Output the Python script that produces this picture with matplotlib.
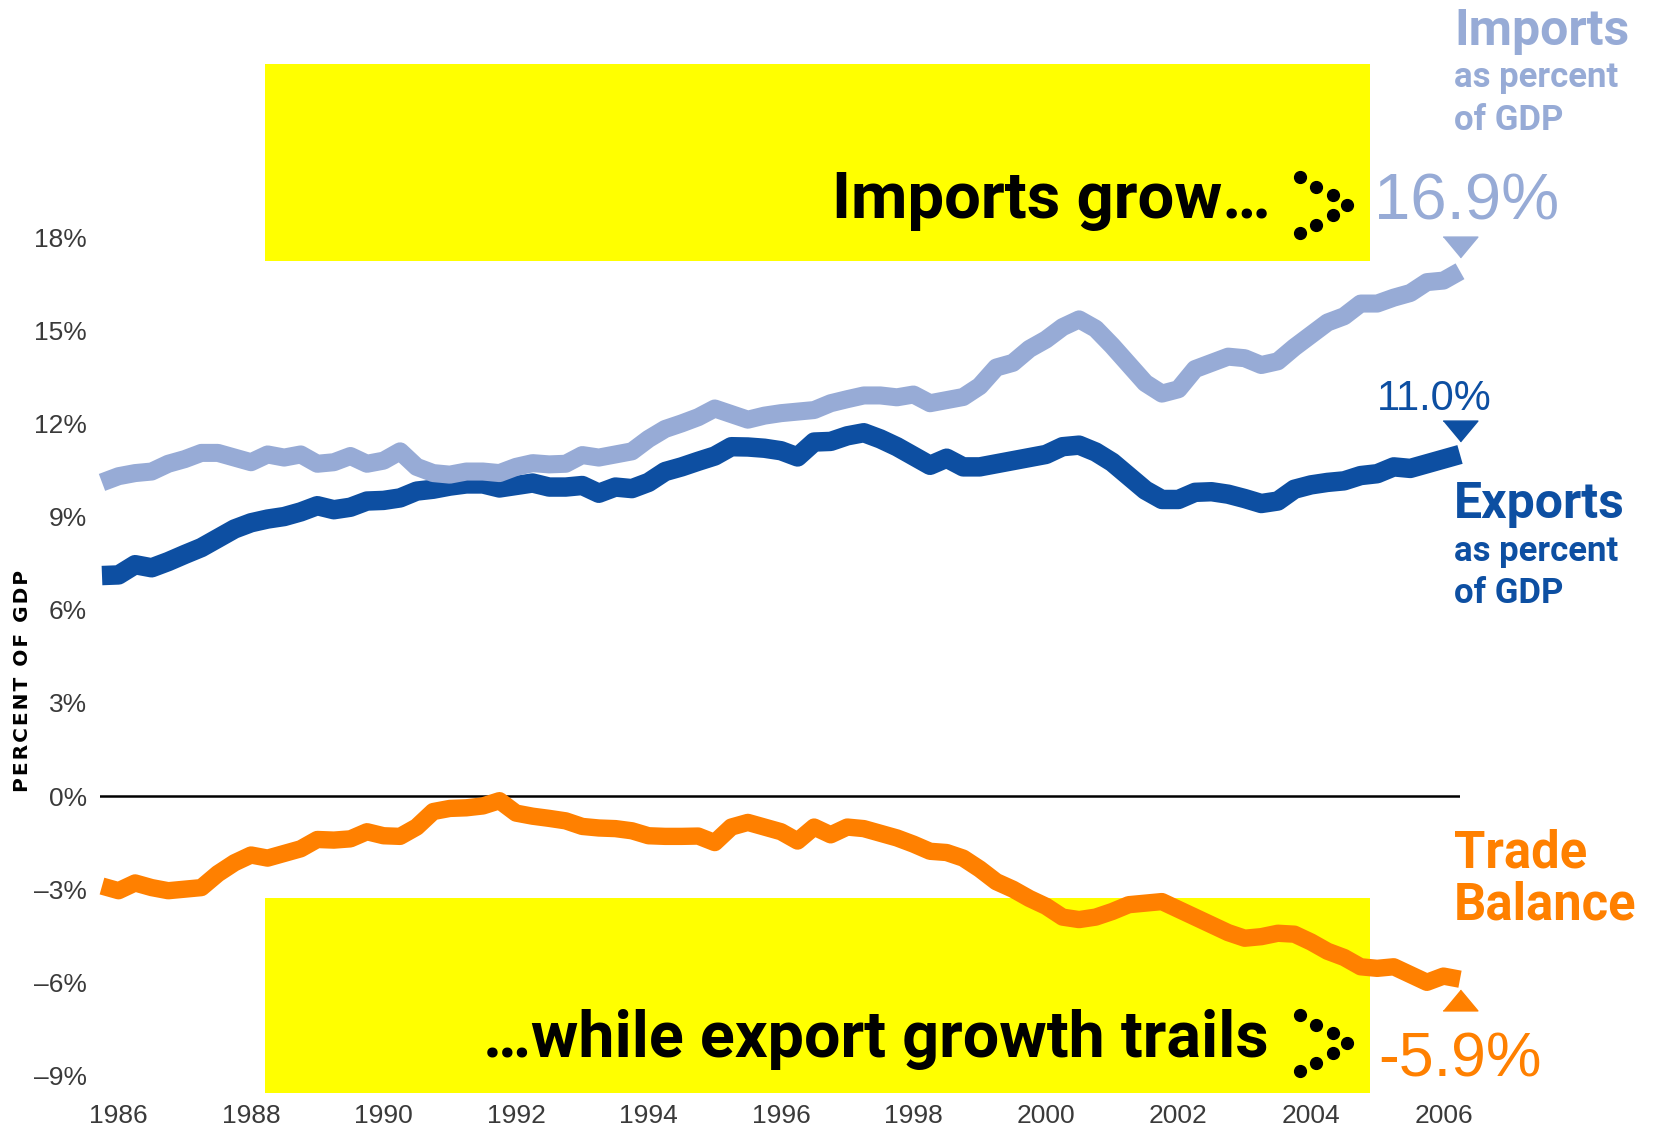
import matplotlib.pyplot as plt
import numpy as np
from matplotlib.patches import Rectangle
from matplotlib.transforms import offset_copy

W, H = 1661, 1136

# quarterly readings, late 1985 .. early 2006, percent of GDP
quarters = np.arange(1985.75, 2006.26, 0.25)

imports_pct = [
    10.1,
    10.3, 10.4, 10.45, 10.7,
    10.85, 11.05, 11.05, 10.9,
    10.75, 11.0, 10.9, 11.0,
    10.7, 10.75, 10.95, 10.7,
    10.8, 11.1, 10.6, 10.4,
    10.35, 10.45, 10.45, 10.4,
    10.6, 10.72, 10.68, 10.7,
    10.98, 10.9, 11.0, 11.1,
    11.5, 11.82, 12.0, 12.2,
    12.48, 12.3, 12.12, 12.25,
    12.33, 12.38, 12.43, 12.65,
    12.78, 12.9, 12.9, 12.84,
    12.93, 12.65, 12.75, 12.85,
    13.2, 13.8, 13.95, 14.4,
    14.7, 15.1, 15.35, 15.05,
    14.5, 13.9, 13.3, 12.96,
    13.1, 13.75, 13.95, 14.15,
    14.1, 13.88, 14.0, 14.45,
    14.85, 15.25, 15.45, 15.86,
    15.86, 16.05, 16.2, 16.55,
    16.6, 16.9,
]

exports_pct = [
    7.1,
    7.12, 7.45, 7.35, 7.55,
    7.78, 8.0, 8.3, 8.6,
    8.8, 8.92, 9.0, 9.15,
    9.35, 9.22, 9.3, 9.5,
    9.52, 9.6, 9.82, 9.88,
    9.98, 10.05, 10.05, 9.92,
    10.0, 10.08, 9.95, 9.95,
    10.0, 9.75, 9.95, 9.9,
    10.1, 10.45, 10.6, 10.78,
    10.95, 11.25, 11.24, 11.2,
    11.12, 10.92, 11.4, 11.42,
    11.6, 11.7, 11.5, 11.25,
    10.95, 10.65, 10.88, 10.6,
    10.6, 10.7, 10.8, 10.9,
    11.0, 11.25, 11.3, 11.08,
    10.75, 10.3, 9.85, 9.55,
    9.55, 9.78, 9.8, 9.72,
    9.58, 9.42, 9.5, 9.88,
    10.02, 10.1, 10.15, 10.32,
    10.38, 10.6, 10.55, 10.7,
    10.85, 11.0,
]

balance_pct = [
    -2.9,
    -3.05, -2.8, -2.95, -3.05,
    -3.0, -2.95, -2.5, -2.15,
    -1.9, -2.0, -1.85, -1.7,
    -1.4, -1.42, -1.38, -1.15,
    -1.28, -1.3, -1.0, -0.5,
    -0.4, -0.38, -0.32, -0.15,
    -0.55, -0.65, -0.72, -0.8,
    -0.98, -1.03, -1.05, -1.12,
    -1.28, -1.3, -1.3, -1.29,
    -1.5, -1.0, -0.85, -1.0,
    -1.15, -1.45, -1.0, -1.25,
    -1.0, -1.05, -1.2, -1.35,
    -1.55, -1.78, -1.82, -2.0,
    -2.35, -2.76, -3.0, -3.3,
    -3.55, -3.9, -3.98, -3.9,
    -3.72, -3.5, -3.45, -3.4,
    -3.65, -3.9, -4.15, -4.4,
    -4.58, -4.53, -4.42, -4.45,
    -4.7, -5.0, -5.2, -5.5,
    -5.55, -5.5, -5.75, -6.0,
    -5.8, -5.9,
]

year_ticks = list(range(1986, 2007, 2))
pct_ticks = list(range(-9, 19, 3))

LIGHT = "#97abd6"
DARK = "#0d4fa2"
ORANGE = "#ff8000"
YELLOW = "#ffff00"
TICK_GREY = "#3a3a3a"

BOLD = ["Roboto", "DejaVu Sans"]
NUM = ["Liberation Sans", "DejaVu Sans"]


def fig_xy(x, y):
    """Pixel position (origin top-left) -> figure fraction."""
    return x / W, 1 - y / H


fig = plt.figure(figsize=(W / 100, H / 100), dpi=100)
ax = fig.add_axes([100 / W, 42 / H, 1360 / W, 1094 / H])
ax.patch.set_visible(False)

# yellow callout panels
for x0, y0, x1, y1 in [(265, 64, 1370, 261), (265, 898, 1370, 1093)]:
    ax.add_patch(Rectangle(fig_xy(x0, y1), (x1 - x0) / W, (y1 - y0) / H,
                           transform=fig.transFigure, color=YELLOW, lw=0,
                           zorder=0, clip_on=False))

ax.axhline(0, color="black", lw=1.8, zorder=1)
line_kw = dict(solid_capstyle="butt", solid_joinstyle="round", clip_on=False)
ax.plot(quarters, balance_pct, color=ORANGE, lw=12.5, zorder=2, **line_kw)
ax.plot(quarters, exports_pct, color=DARK, lw=14, zorder=3, **line_kw)
ax.plot(quarters, imports_pct, color=LIGHT, lw=13, zorder=4, **line_kw)

# end markers and end values
tri_down = [(-1, 0.6), (1, 0.6), (0, -0.6)]
tri_up = [(-1, -0.6), (1, -0.6), (0, 0.6)]
t_end = quarters[-1]
ends = [
    (imports_pct[-1], LIGHT, tri_down, 17.7, (5, 37), 47),
    (exports_pct[-1], DARK, tri_down, 17, (-18.7, 32), 30),
    (balance_pct[-1], ORANGE, tri_up, -15, (0, -70), 45),
]
for val, col, tri, dy, txt_off, fs in ends:
    ax.plot([t_end], [val], ls="none", marker=tri, ms=25, color=col,
            transform=offset_copy(ax.transData, fig=fig, y=dy, units="points"),
            clip_on=False, zorder=5)
    ax.annotate(f"{val:.1f}%", xy=(t_end, val), xytext=txt_off,
                textcoords="offset points", ha="center", va="baseline",
                fontsize=fs, family=NUM, color=col)

# axes styling
ax.set_xlim(1985.72, 2006.25)
ax.set_ylim(-9.597, 25.636)
ax.set_xticks(year_ticks)
ax.set_xticklabels([str(y) for y in year_ticks], fontsize=19, family=NUM,
                   color=TICK_GREY)
ax.set_yticks(pct_ticks)
ax.set_yticklabels([f"{v}%".replace("-", "\u2013") for v in pct_ticks],
                   fontsize=19, family=NUM, color=TICK_GREY)
ax.tick_params(axis="x", length=0, pad=7)
ax.tick_params(axis="y", length=0, pad=9.4)
for s in ax.spines.values():
    s.set_visible(False)

fig.text(*fig_xy(23, 681), "\u200a".join("PERCENT OF GDP"), rotation=90,
         ha="center", va="center", fontsize=14.5, fontweight="bold",
         family=["DejaVu Sans"])

# callout text + dotted chevrons
fig.text(*fig_xy(1271, 218), "Imports grow\u2026", ha="right", va="baseline",
         fontsize=47, fontweight="bold", family=BOLD, color="black")
fig.text(*fig_xy(1269, 1057), "\u2026while export growth trails", ha="right",
         va="baseline", fontsize=46.5, fontweight="bold", family=BOLD,
         color="black")

chev_dx = [0, 16, 33, 47, 33, 16, 0]
chev_dy = [-28, -18, -10, 0, 10, 20, 28]
for cx, cy in [(1300, 205), (1300, 1043)]:
    pts = [fig_xy(cx + dx, cy + dy) for dx, dy in zip(chev_dx, chev_dy)]
    ax.plot([p[0] for p in pts], [p[1] for p in pts], ls="none", marker="o",
            ms=8.5, color="black", transform=fig.transFigure, clip_on=False,
            zorder=6)

# series labels at right
labels = [
    ("Imports", 1454, 45, 36, LIGHT),
    ("as percent", 1454, 87, 25, LIGHT),
    ("of GDP", 1454, 130, 25, LIGHT),
    ("Exports", 1454, 518, 36, DARK),
    ("as percent", 1454, 561, 25, DARK),
    ("of GDP", 1454, 603, 25, DARK),
    ("Trade", 1454, 868, 36.5, ORANGE),
    ("Balance", 1454, 920, 36.5, ORANGE),
]
for txt, x, y, fs, col in labels:
    fig.text(*fig_xy(x, y), txt, ha="left", va="baseline", fontsize=fs,
             fontweight="bold", family=BOLD, color=col)

fig.savefig("out.png", dpi=100)
